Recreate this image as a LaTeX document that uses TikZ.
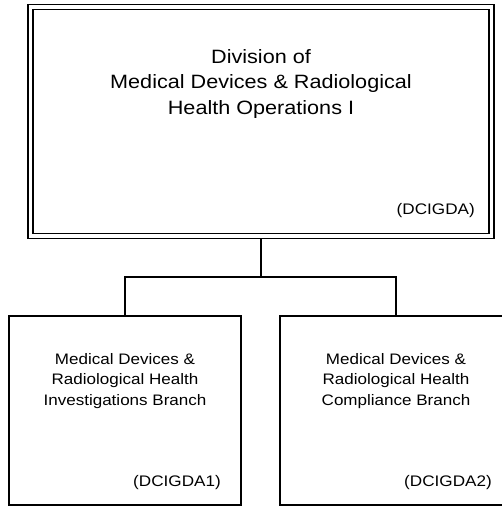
\documentclass[tikz,border=0pt]{standalone}
\usepackage{fontspec}
\setmainfont[FakeStretch=1.12]{Liberation Sans}
\begin{document}
\begin{tikzpicture}[x=1pt,y=-1pt,
  unitbox/.style={draw=black, line width=1.3pt, rectangle, inner sep=0pt,
                  minimum width=232pt, minimum height=189pt},
  divbox/.style={draw=black, line width=1.5pt, double=white, double distance=3.5pt,
                 rectangle, inner sep=0pt, minimum width=461pt, minimum height=229pt},
  conn/.style={draw=black, line width=1.3pt},
  bigtext/.style={align=center, inner sep=0pt, font=\fontsize{19.3}{25.5}\selectfont},
  smalltext/.style={align=center, inner sep=0pt, font=\fontsize{15.2}{20.3}\selectfont},
  codetext/.style={inner sep=0pt, font=\fontsize{15.3}{18}\selectfont}]
\useasboundingbox (0,0) rectangle (502,507);
\clip (0,0) rectangle (502,507);

% division box with its double border
\node[divbox] (div) at (261,121.5) {};
% multi-line labels are placed by the baseline of their last line
\node[bigtext, anchor=base] (divname) at (261,114)
  {Division of\\Medical Devices \& Radiological\\Health Operations I};
\node[codetext, anchor=base east] (divcode) at (475,214.5) {(DCIGDA)};

% branch boxes
\node[unitbox] (inv) at (125,410.5) {};
\node[unitbox] (comp) at (396,410.5) {};
\node[smalltext, anchor=base] (invname) at (125,405)
  {Medical Devices \&\\Radiological Health\\Investigations Branch};
\node[smalltext, anchor=base] (compname) at (396,405)
  {Medical Devices \&\\Radiological Health\\Compliance Branch};
\node[codetext, anchor=base east] (invcode) at (221,486.5) {(DCIGDA1)};
\node[codetext, anchor=base east] (compcode) at (492,486.5) {(DCIGDA2)};

% connectors
\coordinate (split) at (261,277);
\draw[conn] ([yshift=-2.5pt]div.south) -- (split);
\draw[conn] (split) -| (inv.north);
\draw[conn] (split) -| (comp.north);
\end{tikzpicture}
\end{document}
